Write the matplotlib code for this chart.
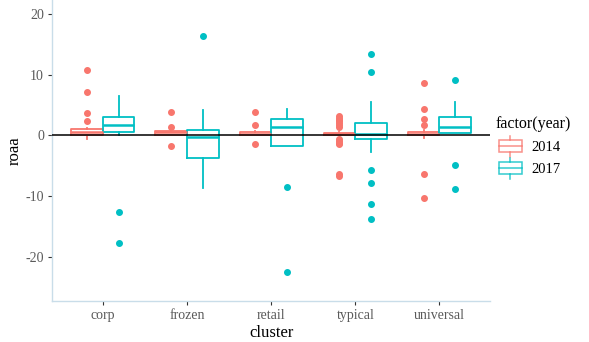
import matplotlib
matplotlib.use("Agg")
import matplotlib.pyplot as plt
from matplotlib.legend_handler import HandlerBase
from matplotlib.patches import Rectangle
from matplotlib.lines import Line2D

plt.rcParams['font.family'] = ['Liberation Serif', 'DejaVu Serif']
plt.rcParams['axes.unicode_minus'] = False

clusters = ['corp', 'frozen', 'retail', 'typical', 'universal']
years = ['2014', '2017']
colors = {'2014': '#F8766D', '2017': '#00BFC4'}

# per cluster: (whislo, q1, med, q3, whishi)
stats_2014 = [
    (-0.65, 0.15, 0.5, 1.0, 1.3),
    (0.05, 0.05, 0.5, 0.75, 0.9),
    (0.05, 0.05, 0.3, 0.6, 0.8),
    (0.05, 0.05, 0.2, 0.4, 0.5),
    (-0.5, 0.05, 0.2, 0.6, 0.9),
]
stats_2017 = [
    (0.05, 0.5, 1.7, 2.96, 6.5),
    (-8.7, -3.7, -0.2, 0.9, 4.1),
    (-1.75, -1.75, 1.35, 2.7, 4.4),
    (-2.7, -0.65, 0.25, 2.1, 5.5),
    (0.33, 0.33, 1.35, 2.96, 5.5),
]
outliers_2014 = [
    [10.7, 7.2, 3.7, 2.3],
    [3.9, 1.4, -1.7],
    [3.9, 1.75, -1.4],
    [3.2, 2.9, 2.6, 2.3, 2.0, 1.7, 1.4, -0.6, -0.9, -1.2, -1.4, -6.3, -6.6],
    [8.6, 4.4, 2.7, 1.7, -6.4, -10.3],
]
outliers_2017 = [
    [-12.6, -17.7],
    [16.3],
    [-8.55, -22.4],
    [13.4, 10.4, -5.75, -7.85, -11.2, -13.8],
    [9.15, -4.9, -8.8],
]


def to_bxp(stats, fliers):
    out = []
    for (lo, q1, med, q3, hi), fl in zip(stats, fliers):
        out.append(dict(whislo=lo, q1=q1, med=med, q3=q3, whishi=hi, fliers=fl))
    return out


class BoxKeyHandler(HandlerBase):
    def __init__(self, color):
        super().__init__()
        self.color = color

    def create_artists(self, legend, orig_handle, xdescent, ydescent, width, height, fontsize, trans):
        c = self.color
        bw = width * 0.8
        x0 = (width - bw) / 2 - xdescent
        y0 = -ydescent + height * 0.1
        bh = height * 0.8
        rect = Rectangle((x0, y0), bw, bh, fill=False, edgecolor=c, lw=1.1, alpha=0.8, transform=trans)
        med = Line2D([x0, x0 + bw], [y0 + bh / 2] * 2, color=c, lw=1.1, alpha=0.8, transform=trans)
        cx = width / 2 - xdescent
        wtop = Line2D([cx, cx], [y0 + bh, -ydescent + height * 1.2], color=c, lw=1.1, alpha=0.8, transform=trans)
        wbot = Line2D([cx, cx], [y0, -ydescent - height * 0.2], color=c, lw=1.1, alpha=0.8, transform=trans)
        return [rect, med, wtop, wbot]


fig = plt.figure(figsize=(5.89, 3.42), dpi=100)
ax = fig.add_axes([0.0888, 0.12, 0.743, 0.88])

positions = list(range(1, len(clusters) + 1))
dodge = 0.1875
for year, stats, fliers, off in [('2014', stats_2014, outliers_2014, -dodge),
                                 ('2017', stats_2017, outliers_2017, dodge)]:
    c = colors[year]
    ax.bxp(to_bxp(stats, fliers), positions=[p + off for p in positions],
           widths=0.375, showcaps=False, patch_artist=False,
           boxprops=dict(color=c, lw=1.3),
           medianprops=dict(color=c, lw=1.8),
           whiskerprops=dict(color=c, lw=1.3),
           flierprops=dict(marker='o', markerfacecolor=c, markeredgecolor=c,
                           markersize=4.0, alpha=1.0),
           zorder=3)

ax.axhline(0, color='black', lw=1.1, zorder=4)

ax.set_xlim(0.4, 5.6)
ax.set_ylim(-27.2, 22.25)
ax.set_xticks(positions)
ax.set_xticklabels(clusters)
ax.set_yticks([-20, -10, 0, 10, 20])
ax.set_xlabel('cluster', fontsize=12, labelpad=2)
ax.set_ylabel('roaa', fontsize=12, labelpad=2)

for s in ['top', 'right']:
    ax.spines[s].set_visible(False)
for s in ['left', 'bottom']:
    ax.spines[s].set_color('#c9dde9')
    ax.spines[s].set_linewidth(1.0)
ax.tick_params(axis='both', colors='#333333', labelcolor='#5a5a5a', labelsize=10,
               length=3, width=0.8, pad=3)

handles = [Rectangle((0, 0), 1, 1) for _ in years]
leg = fig.legend(handles, years, title='factor(year)',
                 handler_map={handles[0]: BoxKeyHandler(colors['2014']),
                              handles[1]: BoxKeyHandler(colors['2017'])},
                 loc='upper left', bbox_to_anchor=(0.832, 0.677),
                 frameon=False, fontsize=10.5, title_fontsize=11.5,
                 handlelength=2.0, handleheight=1.2, labelspacing=0.45,
                 handletextpad=0.4, borderaxespad=0)
leg._legend_box.align = 'left'

fig.savefig('out.png', dpi=100)
